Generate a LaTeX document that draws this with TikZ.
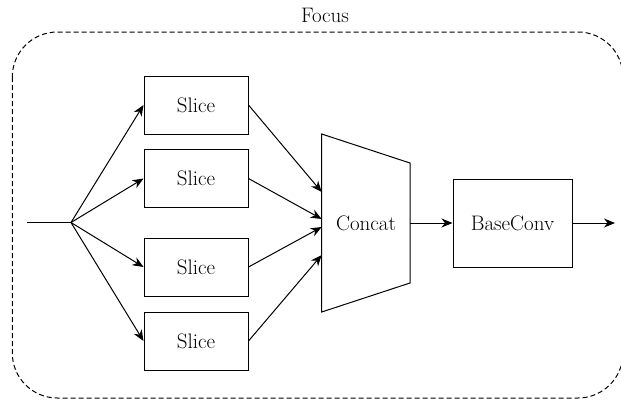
\documentclass[tikz,border=0pt]{standalone}
\usetikzlibrary{arrows.meta}
\begin{document}
\begin{tikzpicture}[x=1pt,y=-1pt,line width=1pt,
  >={Stealth[length=11pt,width=9pt,inset=3.5pt]},
  txt/.style={font=\fontsize{21}{25}\selectfont},
  slicebox/.style={draw,line width=1pt,minimum width=104pt,minimum height=58pt,inner sep=0pt,txt},
  convbox/.style={draw,line width=1pt,minimum width=119pt,minimum height=88pt,inner sep=0pt,txt},
  conn/.style={->,line width=1pt},
  group/.style={dashed,dash pattern=on 5pt off 3pt,line width=1pt,rounded corners=45pt}]
\useasboundingbox (0,0) rectangle (621,400);
% group
\draw[group] (12.3,32) rectangle (623,398);
\node[txt] (focus) at (325,15) {Focus};
% slices
\node[slicebox] (s1) at (196,105) {Slice};
\node[slicebox] (s2) at (196,178.5) {Slice};
\node[slicebox] (s3) at (196,267) {Slice};
\node[slicebox] (s4) at (196,341) {Slice};
% input
\coordinate (in) at (27,222.5);
\coordinate (br) at (71,222.5);
\draw (in) -- (br);
\draw[conn] (br) -- (s1.west);
\draw[conn] (br) -- (s2.west);
\draw[conn] (br) -- (s3.west);
\draw[conn] (br) -- (s4.west);
% concat trapezoid
\coordinate (tl) at (321.7,134);
\coordinate (tr) at (410,163);
\coordinate (brr) at (410,283);
\coordinate (bl) at (321.7,312);
\draw[line width=1pt] (tl) -- (tr) -- (brr) -- (bl) -- cycle;
\node[txt] (concat) at (366,223) {Concat};
\coordinate (c1) at (321.7,192);
\coordinate (c2) at (321.7,219);
\coordinate (c3) at (321.7,227);
\coordinate (c4) at (321.7,255);
\coordinate (cout) at (410,223);
\draw[conn] (s1.east) -- (c1);
\draw[conn] (s2.east) -- (c2);
\draw[conn] (s3.east) -- (c3);
\draw[conn] (s4.east) -- (c4);
% baseconv
\node[convbox] (bc) at (512.5,223) {BaseConv};
\draw[conn] (cout) -- (bc.west);
\coordinate (out) at (615,223);
\draw[conn] (bc.east) -- (out);
\end{tikzpicture}
\end{document}
